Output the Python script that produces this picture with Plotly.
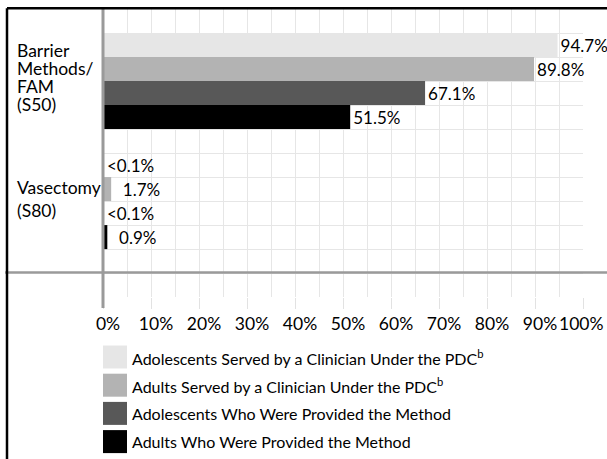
import plotly.graph_objects as go

categories = ["Barrier Methods/ FAM (S50)", "Vasectomy (S80)"]
category_lines = [["Barrier", "Methods/", "FAM", "(S50)"], ["Vasectomy", "(S80)"]]

series_names = [
    "Adolescents Served by a Clinician Under the PDC<sup>b</sup>",
    "Adults Served by a Clinician Under the PDC<sup>b</sup>",
    "Adolescents Who Were Provided the Method",
    "Adults Who Were Provided the Method",
]

# <0.1% shown as a sliver
adolescents_served = [94.7, 0.05]
adults_served = [89.8, 1.7]
adolescents_provided = [67.1, 0.05]
adults_provided = [51.5, 0.9]

adolescents_served_text = ["94.7%", "<0.1%"]
adults_served_text = ["89.8%", "\u00a0\u00a01.7%"]
adolescents_provided_text = ["67.1%", "<0.1%"]
adults_provided_text = ["51.5%", "\u00a0\u00a00.9%"]

tick_values = [0, 10, 20, 30, 40, 50, 60, 70, 80, 90, 100]
tick_labels = ["0%", "10%", "20%", "30%", "40%", "50%", "60%", "70%", "80%", "90%",
               "100%\u00a0\u00a0\u00a0"]

colors = ["#e6e6e6", "#b3b3b3", "#585858", "#000000"]
FONT = "Lato"

values = [adolescents_served, adults_served, adolescents_provided, adults_provided]
texts = [adolescents_served_text, adults_served_text, adolescents_provided_text, adults_provided_text]
ypos = list(range(len(categories)))

fig = go.Figure()
for name, vals, txt, col in zip(series_names, values, texts, colors):
    fig.add_trace(go.Bar(
        x=vals, y=ypos, orientation="h", name=name,
        marker=dict(color=col, line=dict(width=0)),
        text=txt, textposition="outside", constraintext="none",
        textfont=dict(family=FONT, size=17, color="black"),
        cliponaxis=False, showlegend=False,
    ))

# category labels, left aligned; 120 px per category on the y axis
lead_px = [18, 23]
shift_px = [-4, -2]
for i, lines in enumerate(category_lines):
    n = len(lines)
    for j, line in enumerate(lines):
        off = shift_px[i] + (j - (n - 1) / 2) * lead_px[i]
        fig.add_annotation(x=-0.183, y=i + off / 120.0, xref="paper", yref="y",
                           text=line, showarrow=False, xanchor="left", yanchor="middle",
                           font=dict(family=FONT, size=17.5, color="black"))

# hand-made legend with big swatches
PH = 288.0
for k, (name, col) in enumerate(zip(series_names, colors)):
    cy = 357 + 28.2 * k
    y0 = (297 - (cy + 11.5)) / PH
    y1 = (297 - (cy - 11.5)) / PH
    fig.add_shape(type="rect", xref="paper", yref="paper", x0=0, x1=0.05, y0=y0, y1=y1,
                  fillcolor=col, line=dict(width=0))
    fig.add_annotation(x=0.056, y=(297 - cy) / PH, xref="paper", yref="paper", text=name,
                       showarrow=False, xanchor="left", yanchor="middle",
                       font=dict(family=FONT, size=16, color="black"))

# separator line and y axis line
fig.add_shape(type="line", xref="paper", yref="paper", x0=-0.204, x1=1.06,
              y0=(297 - 272.5) / PH, y1=(297 - 272.5) / PH, line=dict(color="#9a9a9a", width=2.5))
fig.add_shape(type="line", xref="paper", yref="paper", x0=0, x1=0,
              y0=1, y1=(297 - 308) / PH, line=dict(color="#9a9a9a", width=3))
# frame (left and top)
fig.add_shape(type="line", xref="paper", yref="paper", x0=-0.2, x1=-0.2,
              y0=1.003, y1=-0.6, line=dict(color="black", width=2.5))
fig.add_shape(type="line", xref="paper", yref="paper", x0=-0.2, x1=1.06,
              y0=1.003, y1=1.003, line=dict(color="black", width=2.5))

fig.update_layout(
    width=607, height=459,
    margin=dict(l=103, r=24, t=9, b=162, autoexpand=False),
    paper_bgcolor="white", plot_bgcolor="white",
    barmode="group", bargap=0.2, bargroupgap=0,
    showlegend=False,
    font=dict(family=FONT, size=16, color="black"),
    xaxis=dict(
        range=[0, 100], tickmode="array", tickvals=tick_values, ticktext=tick_labels,
        ticks="outside", ticklen=11, tickcolor="#e2e2e2", tickwidth=1, tickangle=0,
        showgrid=True, gridcolor="#e6e6e6", gridwidth=1,
        minor=dict(dtick=5, showgrid=True, gridcolor="#e6e6e6", gridwidth=1),
        zeroline=False, showline=False, automargin=False,
        ticklabelshift=5, ticklabelstandoff=0, ticklabeloverflow="allow",
        tickfont=dict(family=FONT, size=17.5, color="black"),
        fixedrange=True,
    ),
    yaxis=dict(
        range=[1.799, -0.6], tickmode="linear", tick0=0, dtick=0.2,
        showticklabels=False, ticks="", automargin=False,
        showgrid=True, gridcolor="#e6e6e6", gridwidth=1,
        zeroline=False, showline=False, fixedrange=True,
    ),
)

# page has a default 8px body margin; drop it so the figure sits at 0,0
fig.write_html("out.html", config={"displayModeBar": False},
               post_script="document.body.style.margin='0';")
